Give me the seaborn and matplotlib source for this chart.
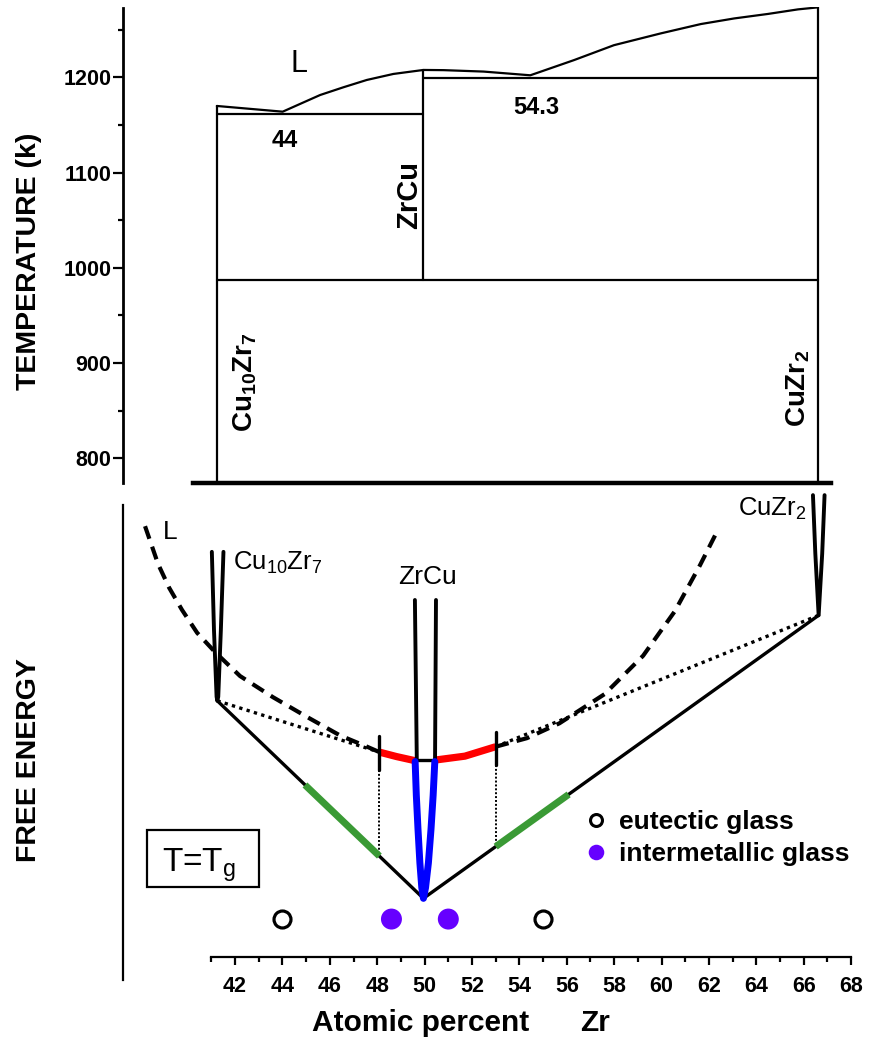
import matplotlib
matplotlib.use("Agg")
import matplotlib.pyplot as plt
from matplotlib.lines import Line2D
from matplotlib.patches import Rectangle
import seaborn as sns

# ---------------- top panel: Cu-Zr phase diagram ----------------
liq_x = [41.23, 44.01, 44.74, 45.59, 46.57, 47.56, 48.68, 49.95, 50.80, 52.49,
         54.46, 56.30, 57.99, 59.97, 61.66, 63.07, 64.49, 65.76, 66.60]
liq_T = [1169.9, 1163.9, 1172.0, 1181.4, 1189.5, 1197.2, 1203.5, 1207.7, 1207.5, 1206.0,
         1202.1, 1218.0, 1233.7, 1246.1, 1255.9, 1261.8, 1266.5, 1271.3, 1273.4]
x_cu10zr7, x_zrcu, x_cuzr2 = 41.23, 49.95, 66.60
T_eut44, T_eut543, T_eutectoid = 1161.5, 1199.7, 987.0
T_axis_min, T_axis_max = 774.1, 1274.0
temp_ticks = [800, 900, 1000, 1100, 1200]
temp_minor = [850, 950, 1050, 1150, 1250]

# ---------------- bottom panel: free energy at T = Tg ----------------
L_left_x = [38.20, 38.75, 39.22, 39.76, 40.40, 41.16, 42.21, 43.60, 45.04, 46.43, 47.57, 48.09]
L_left_G = [95.8, 87.4, 82.1, 77.2, 72.1, 67.8, 62.5, 57.8, 53.4, 49.3, 46.8, 45.6]
L_red_left_x = [48.09, 48.82, 49.59]
L_red_left_G = [45.6, 44.6, 43.7]
L_mid_x = [49.67, 50.44]
L_mid_G = [43.8, 43.8]
L_red_right_x = [50.40, 51.70, 53.00]
L_red_right_G = [43.8, 44.7, 46.8]
L_right_x = [53.00, 54.32, 55.69, 57.60, 59.22, 60.56, 61.62, 62.37]
L_right_G = [46.8, 48.7, 52.0, 58.5, 67.0, 76.9, 87.1, 94.9]

c107_x = [41.02, 41.11, 41.22, 41.25, 41.29, 41.40, 41.51]
c107_G = [90.1, 72.7, 57.9, 57.0, 57.9, 72.7, 90.1]
zrcu_upL_x, zrcu_upL_G = [49.59, 49.67], [79.4, 43.8]
zrcu_upR_x, zrcu_upR_G = [50.44, 50.48], [43.8, 79.4]
zrcu_low_x = [49.60, 49.65, 49.72, 49.80, 49.88, 49.95, 50.04, 50.16, 50.27, 50.36, 50.43]
zrcu_low_G = [43.5, 36.0, 28.5, 21.0, 15.5, 13.1, 15.5, 21.0, 28.5, 36.0, 43.5]
cuzr2_x = [66.39, 66.49, 66.63, 66.78, 66.88]
cuzr2_G = [102.7, 89.7, 76.0, 89.7, 102.7]

tangent_x = [41.25, 49.95, 66.63]
tangent_G = [57.0, 13.1, 76.0]
green_left_x, green_left_G = [44.95, 48.09], [38.3, 22.5]
green_right_x, green_right_G = [53.00, 56.08], [24.6, 36.2]
dot_left_x, dot_left_G = [41.25, 48.09], [57.0, 45.6]
dot_right_x, dot_right_G = [53.00, 66.63], [46.8, 76.0]
vdot_left_x, vdot_left_G = [48.09, 48.09], [41.6, 22.5]
vdot_right_x, vdot_right_G = [53.00, 53.00], [42.7, 24.6]
bar_left_x, bar_left_G = [48.09, 48.09], [49.2, 41.6]
bar_right_x, bar_right_G = [53.00, 53.00], [50.1, 42.7]

eutectic_x = [44.0, 55.0]
intermetallic_x = [48.6, 51.0]
glass_row_G = [8.5, 8.5]
G_min, G_max = -5.04, 103.84

comp_ticks = list(range(42, 69, 2))
comp_minor = list(range(41, 68, 2))
x_lim = (37.27, 68.46)

# ---------------- style ----------------
sns.set_style("white")
plt.rcParams["font.family"] = ["Liberation Sans", "DejaVu Sans"]
plt.rcParams["mathtext.default"] = "regular"
for key in ["text.color", "axes.labelcolor", "xtick.color", "ytick.color", "axes.edgecolor"]:
    plt.rcParams[key] = "black"

fig = plt.figure(figsize=(8.72, 10.4), dpi=100)
W, H = 872.0, 1040.0
left = 123 / W
width = (862 - 123) / W
ax1 = fig.add_axes([left, 1 - 483 / H, width, (483 - 6.8) / H])
ax2 = fig.add_axes([left, 1 - 980 / H, width, 490 / H])


def line(ax, x, y, **kw):
    sns.lineplot(x=x, y=y, ax=ax, sort=False, estimator=None, **kw)


# ---- top panel ----
k = dict(color="black", lw=1.6)
line(ax1, liq_x, liq_T, **k)
line(ax1, [x_cu10zr7, x_cu10zr7], [T_axis_min, liq_T[0]], **k)
line(ax1, [x_zrcu, x_zrcu], [T_eutectoid, liq_T[7]], **k)
line(ax1, [x_cuzr2, x_cuzr2], [T_axis_min, liq_T[-1]], **k)
line(ax1, [x_cu10zr7, x_zrcu], [T_eut44, T_eut44], **k)
line(ax1, [x_zrcu, x_cuzr2], [T_eut543, T_eut543], **k)
line(ax1, [x_cu10zr7, x_cuzr2], [T_eutectoid, T_eutectoid], **k)

ax1.set_xlim(*x_lim)
ax1.set_ylim(T_axis_min, T_axis_max)
for s in ["top", "right"]:
    ax1.spines[s].set_visible(False)
ax1.spines["left"].set_linewidth(2)
ax1.spines["left"].set_bounds(T_axis_min, 1272.4)
ax1.spines["bottom"].set_linewidth(3.2)
ax1.spines["bottom"].set_bounds(40.23, 67.15)
ax1.set_xticks([])
ax1.set_yticks(temp_ticks)
ax1.set_yticks(temp_minor, minor=True)
ax1.set_yticklabels([str(t) for t in temp_ticks], fontweight="bold", fontsize=15.5)
ax1.tick_params(axis="y", which="major", direction="out", length=7.2, width=1.6, pad=1, left=True)
ax1.tick_params(axis="y", which="minor", direction="out", length=3.6, width=1.6, left=True)
ax1.set_xlabel("")
ax1.set_ylabel("")

ax1.text(44.32, 1205.9, "L", fontsize=22, va="baseline", ha="left")
ax1.text(44.11, 1127.1, "44", fontsize=17, fontweight="bold", va="baseline", ha="center")
ax1.text(54.70, 1161.0, "54.3", fontsize=17, fontweight="bold", va="baseline", ha="center")
ax1.text(49.33, 1076.4, "ZrCu", fontsize=21, fontweight="bold", rotation=90, ha="center", va="center")
ax1.text(42.44, 880.1, "Cu$_{10}$Zr$_7$", fontsize=20, fontweight="bold", rotation=90, ha="center", va="center")
ax1.text(65.76, 873.8, "CuZr$_2$", fontsize=20, fontweight="bold", rotation=90, ha="center", va="center")

# ---- bottom panel ----
dash = (0, (3.2, 2.0))
dotted = (0, (1.0, 1.3))
line(ax2, L_left_x, L_left_G, color="black", lw=3, linestyle=dash, zorder=2)
line(ax2, L_right_x, L_right_G, color="black", lw=3, linestyle=dash, zorder=2)
line(ax2, dot_left_x, dot_left_G, color="black", lw=2.4, linestyle=dotted, zorder=2)
line(ax2, dot_right_x, dot_right_G, color="black", lw=2.4, linestyle=dotted, zorder=2)
line(ax2, vdot_left_x, vdot_left_G, color="black", lw=1.4, linestyle=(0, (1.0, 1.0)), zorder=2)
line(ax2, vdot_right_x, vdot_right_G, color="black", lw=1.4, linestyle=(0, (1.0, 1.0)), zorder=2)
line(ax2, tangent_x, tangent_G, color="black", lw=2.4, zorder=3)
line(ax2, green_left_x, green_left_G, color="#3a9a35", lw=5, zorder=4, solid_capstyle="butt")
line(ax2, green_right_x, green_right_G, color="#3a9a35", lw=5, zorder=4, solid_capstyle="butt")
line(ax2, L_red_left_x, L_red_left_G, color="#ff0000", lw=5.2, zorder=4, solid_capstyle="butt")
line(ax2, L_red_right_x, L_red_right_G, color="#ff0000", lw=5.2, zorder=4, solid_capstyle="butt")
line(ax2, L_mid_x, L_mid_G, color="black", lw=2.4, zorder=4)
line(ax2, c107_x, c107_G, color="black", lw=2.8, zorder=5)
line(ax2, cuzr2_x, cuzr2_G, color="black", lw=2.8, zorder=5)
line(ax2, zrcu_upL_x, zrcu_upL_G, color="black", lw=2.8, zorder=5)
line(ax2, zrcu_upR_x, zrcu_upR_G, color="black", lw=2.8, zorder=5)
line(ax2, zrcu_low_x, zrcu_low_G, color="#0000ff", lw=5, zorder=5)
line(ax2, bar_left_x, bar_left_G, color="black", lw=2.4, zorder=6)
line(ax2, bar_right_x, bar_right_G, color="black", lw=2.4, zorder=6)

sns.scatterplot(x=eutectic_x, y=glass_row_G, ax=ax2, marker="o", s=149,
                facecolor="white", edgecolor="black", linewidth=2.3, zorder=6)
sns.scatterplot(x=intermetallic_x, y=glass_row_G, ax=ax2, marker="o", s=228,
                color="#6600ff", edgecolor="none", linewidth=0, zorder=6)

ax2.set_xlim(*x_lim)
ax2.set_ylim(G_min, G_max)
for s in ["top", "right"]:
    ax2.spines[s].set_visible(False)
ax2.spines["left"].set_linewidth(1.6)
ax2.spines["left"].set_bounds(G_min, 100.5)
ax2.spines["bottom"].set_position(("data", 0))
ax2.spines["bottom"].set_bounds(41, 68)
ax2.spines["bottom"].set_linewidth(1.6)
ax2.set_yticks([])
ax2.set_xticks(comp_ticks)
ax2.set_xticks(comp_minor, minor=True)
ax2.set_xticklabels([str(t) for t in comp_ticks], fontweight="bold", fontsize=15.5)
ax2.tick_params(axis="x", which="major", direction="out", length=5.8, width=1.6, pad=8, bottom=True)
ax2.tick_params(axis="x", which="minor", direction="out", length=3.6, width=1.6, bottom=True)
ax2.set_xlabel("")
ax2.set_ylabel("")

ax2.text(38.96, 93.0, "L", fontsize=19, va="baseline", ha="left")
ax2.text(41.93, 86.1, "Cu$_{10}$Zr$_7$", fontsize=18.5, va="baseline", ha="left")
ax2.text(50.12, 83.0, "ZrCu", fontsize=19, va="baseline", ha="center")
ax2.text(63.22, 98.1, "CuZr$_2$", fontsize=18.5, va="baseline", ha="left")
ax2.add_patch(Rectangle((38.30, 15.7), 43.03 - 38.30, 28.3 - 15.7, fill=False,
                        lw=1.6, ec="black", zorder=6))
ax2.text(38.91, 19.0, "T=T$_g$", fontsize=24, va="baseline", ha="left")

handles = [
    Line2D([], [], marker="o", ls="", ms=8.6, mfc="white", mec="black", mew=2.2),
    Line2D([], [], marker="o", ls="", ms=11.2, mfc="#6600ff", mec="#6600ff", mew=0),
]
ax2.legend(handles, ["eutectic glass", "intermetallic glass"], loc="upper left",
           bbox_to_anchor=(582.5 / W, 1 - 810 / H), bbox_transform=fig.transFigure,
           frameon=False, borderpad=0, borderaxespad=0, handlelength=1.0,
           handletextpad=0.4, labelspacing=0.32, prop={"weight": "bold", "size": 19})

# axis titles
fig.text(29 / W, 1 - 261 / H, "TEMPERATURE (k)", rotation=90, fontsize=20.5,
         fontweight="bold", ha="center", va="center")
fig.text(29 / W, 1 - 760 / H, "FREE ENERGY", rotation=90, fontsize=20.5,
         fontweight="bold", ha="center", va="center")
fig.text(311.7 / W, 1 - 1031 / H, "Atomic percent", fontsize=21.5, fontweight="bold",
         ha="left", va="baseline")
fig.text(580 / W, 1 - 1031 / H, "Zr", fontsize=21.5, fontweight="bold",
         ha="left", va="baseline")

fig.savefig("out.png", dpi=100)
